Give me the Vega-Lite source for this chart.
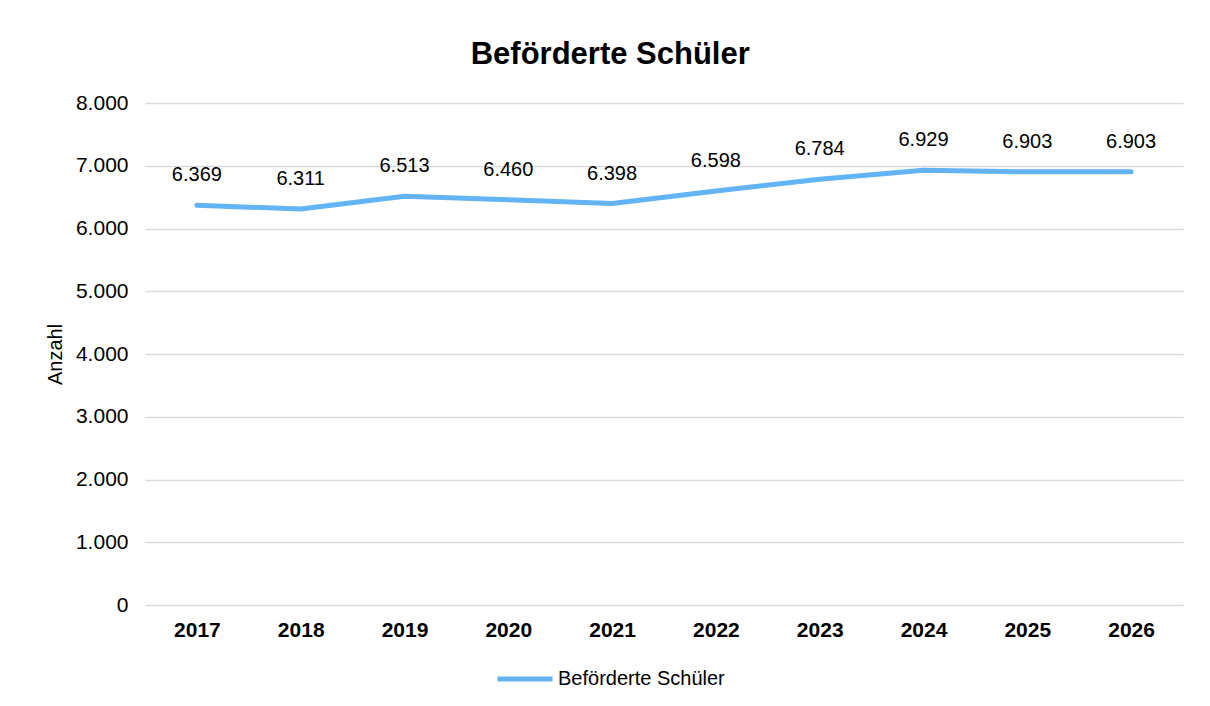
{
  "$schema": "https://vega.github.io/schema/vega-lite/v6.json",
  "width": 1038,
  "height": 502,
  "autosize": {"type": "none"},
  "padding": {"left": 145, "top": 103, "right": 27, "bottom": 101},
  "background": "white",
  "config": {
    "locale": {"number": {"decimal": ",", "thousands": ".", "grouping": [3], "currency": ["", " €"]}},
    "font": "Liberation Sans",
    "view": {"stroke": null},
    "axis": {"domain": false, "ticks": false, "gridColor": "#d9d9d9", "gridWidth": 1.5, "labelColor": "#000", "titleColor": "#000", "labelFont": "Liberation Sans", "titleFont": "Liberation Sans"}
  },
  "title": {"text": "Beförderte Schüler", "fontSize": 31, "fontWeight": "bold", "font": "Liberation Sans", "color": "#000", "anchor": "middle", "frame": "bounds", "offset": 21, "dx": -4},
  "data": {"values": [
    {"Jahr": "2017", "Anzahl": 6369, "Serie": "Beförderte Schüler"},
    {"Jahr": "2018", "Anzahl": 6311, "Serie": "Beförderte Schüler"},
    {"Jahr": "2019", "Anzahl": 6513, "Serie": "Beförderte Schüler"},
    {"Jahr": "2020", "Anzahl": 6460, "Serie": "Beförderte Schüler"},
    {"Jahr": "2021", "Anzahl": 6398, "Serie": "Beförderte Schüler"},
    {"Jahr": "2022", "Anzahl": 6598, "Serie": "Beförderte Schüler"},
    {"Jahr": "2023", "Anzahl": 6784, "Serie": "Beförderte Schüler"},
    {"Jahr": "2024", "Anzahl": 6929, "Serie": "Beförderte Schüler"},
    {"Jahr": "2025", "Anzahl": 6903, "Serie": "Beförderte Schüler"},
    {"Jahr": "2026", "Anzahl": 6903, "Serie": "Beförderte Schüler"}
  ]},
  "encoding": {
    "x": {"field": "Jahr", "type": "ordinal", "scale": {"type": "point", "padding": 0.5},
      "axis": {"title": null, "labelAngle": 0, "labelFontSize": 21, "labelFontWeight": "bold", "labelPadding": 14, "grid": false}},
    "y": {"field": "Anzahl", "type": "quantitative", "scale": {"domain": [0, 8000], "nice": false},
      "axis": {"title": "Anzahl", "titleFontSize": 20, "titleFontWeight": "normal", "titlePadding": 10, "labelFontSize": 21, "labelPadding": 17, "values": [0, 1000, 2000, 3000, 4000, 5000, 6000, 7000, 8000], "format": ",d"}}
  },
  "layer": [
    {
      "mark": {"type": "line", "strokeWidth": 5, "strokeCap": "round", "strokeJoin": "round"},
      "encoding": {
        "color": {"field": "Serie", "type": "nominal", "scale": {"range": ["#63b4f5"]},
          "legend": {"title": null, "orient": "none", "legendX": 350, "legendY": 546, "symbolType": "stroke", "symbolSize": 3025, "symbolStrokeWidth": 5, "labelFontSize": 20, "labelColor": "#000", "labelOffset": 3, "labelLimit": 0}}
      }
    },
    {
      "mark": {"type": "text", "dy": -30, "fontSize": 20, "color": "#000"},
      "encoding": {"text": {"field": "Anzahl", "type": "quantitative", "format": ",d"}}
    }
  ]
}
